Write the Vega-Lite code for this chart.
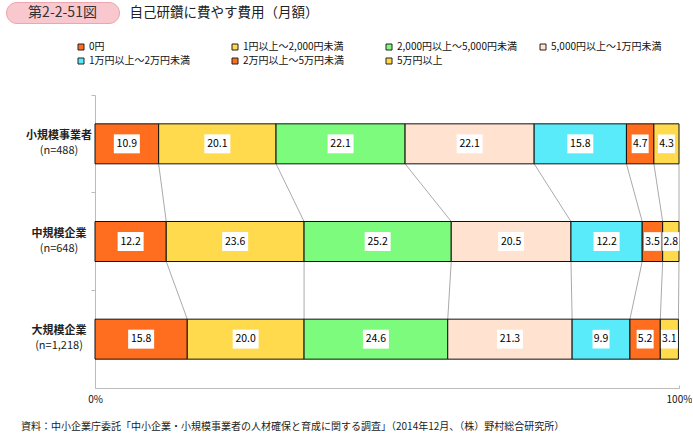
{
  "$schema": "https://vega.github.io/schema/vega-lite/v6.json",
  "background": "white",
  "padding": {"left": 5, "top": 1, "right": 0, "bottom": 0},
  "config": {
    "font": "Noto Sans CJK JP",
    "view": {"stroke": null}
  },
  "datasets": {
    "bars": [
      {"g": "小規模事業者", "gi": 0, "c": "0円", "ci": 0, "v": 10.9},
      {"g": "小規模事業者", "gi": 0, "c": "1円以上～2,000円未満", "ci": 1, "v": 20.1},
      {"g": "小規模事業者", "gi": 0, "c": "2,000円以上～5,000円未満", "ci": 2, "v": 22.1},
      {"g": "小規模事業者", "gi": 0, "c": "5,000円以上～1万円未満", "ci": 3, "v": 22.1},
      {"g": "小規模事業者", "gi": 0, "c": "1万円以上～2万円未満", "ci": 4, "v": 15.8},
      {"g": "小規模事業者", "gi": 0, "c": "2万円以上～5万円未満", "ci": 5, "v": 4.7},
      {"g": "小規模事業者", "gi": 0, "c": "5万円以上", "ci": 6, "v": 4.3},
      {"g": "中規模企業", "gi": 1, "c": "0円", "ci": 0, "v": 12.2},
      {"g": "中規模企業", "gi": 1, "c": "1円以上～2,000円未満", "ci": 1, "v": 23.6},
      {"g": "中規模企業", "gi": 1, "c": "2,000円以上～5,000円未満", "ci": 2, "v": 25.2},
      {"g": "中規模企業", "gi": 1, "c": "5,000円以上～1万円未満", "ci": 3, "v": 20.5},
      {"g": "中規模企業", "gi": 1, "c": "1万円以上～2万円未満", "ci": 4, "v": 12.2},
      {"g": "中規模企業", "gi": 1, "c": "2万円以上～5万円未満", "ci": 5, "v": 3.5},
      {"g": "中規模企業", "gi": 1, "c": "5万円以上", "ci": 6, "v": 2.8},
      {"g": "大規模企業", "gi": 2, "c": "0円", "ci": 0, "v": 15.8},
      {"g": "大規模企業", "gi": 2, "c": "1円以上～2,000円未満", "ci": 1, "v": 20.0},
      {"g": "大規模企業", "gi": 2, "c": "2,000円以上～5,000円未満", "ci": 2, "v": 24.6},
      {"g": "大規模企業", "gi": 2, "c": "5,000円以上～1万円未満", "ci": 3, "v": 21.3},
      {"g": "大規模企業", "gi": 2, "c": "1万円以上～2万円未満", "ci": 4, "v": 9.9},
      {"g": "大規模企業", "gi": 2, "c": "2万円以上～5万円未満", "ci": 5, "v": 5.2},
      {"g": "大規模企業", "gi": 2, "c": "5万円以上", "ci": 6, "v": 3.1}
    ],
    "groups": [
      {"g": "小規模事業者", "n": "(n=488)"},
      {"g": "中規模企業", "n": "(n=648)"},
      {"g": "大規模企業", "n": "(n=1,218)"}
    ]
  },
  "spacing": 70,
  "vconcat": [
    {
      "spacing": 4,
      "hconcat": [
        {
          "width": 113,
          "height": 21,
          "view": {"fill": "#F8C8CE", "stroke": "#EDA5AE", "cornerRadius": 10.5},
          "data": {"values": [{"t": "第2-2-51図"}]},
          "mark": {"type": "text", "fontSize": 14, "color": "#333333", "baseline": "middle", "align": "center"},
          "encoding": {"text": {"field": "t"}}
        },
        {
          "width": 200,
          "height": 21,
          "data": {"values": [{"t": "自己研鑽に費やす費用（月額）"}]},
          "mark": {"type": "text", "fontSize": 13.5, "color": "#222222", "baseline": "middle", "align": "center"},
          "encoding": {"text": {"field": "t"}}
        }
      ]
    },
    {
      "spacing": 0,
      "bounds": "flush",
      "hconcat": [
        {
          "width": 89,
          "height": 293,
          "data": {"name": "groups"},
          "encoding": {
            "y": {
              "field": "g",
              "type": "nominal",
              "sort": ["小規模事業者", "中規模企業", "大規模企業"],
              "scale": {"paddingInner": 0, "paddingOuter": 0},
              "axis": null
            }
          },
          "layer": [
            {
              "mark": {"type": "text", "fontSize": 11, "fontWeight": "bold", "color": "#222222", "align": "center", "baseline": "middle", "dx": 8.5, "dy": -8},
              "encoding": {"text": {"field": "g"}}
            },
            {
              "mark": {"type": "text", "fontSize": 11, "color": "#222222", "align": "center", "baseline": "middle", "dx": 8.5, "dy": 7},
              "encoding": {"text": {"field": "n"}}
            }
          ]
        },
        {
          "width": 584,
          "height": 293,
          "title": {
            "text": "資料：中小企業庁委託「中小企業・小規模事業者の人材確保と育成に関する調査」（2014年12月、（株）野村総合研究所）",
            "orient": "bottom",
            "anchor": "start",
            "frame": "group",
            "dx": -74,
            "offset": 18,
            "fontSize": 10,
            "fontWeight": "normal",
            "color": "#222222"
          },
          "data": {"name": "bars"},
          "encoding": {
            "y": {
              "field": "g",
              "type": "nominal",
              "sort": ["小規模事業者", "中規模企業", "大規模企業"],
              "scale": {"paddingInner": 0, "paddingOuter": 0},
              "axis": {
                "title": null,
                "bandPosition": 0,
                "labels": false,
                "domainColor": "#BBBBBB",
                "tickColor": "#BBBBBB",
                "tickSize": 4
              }
            }
          },
          "layer": [
            {
              "transform": [
                {"window": [{"op": "sum", "field": "v", "as": "cum"}], "groupby": ["g"], "sort": [{"field": "ci"}]},
                {"window": [{"op": "lead", "field": "cum", "as": "nc"}, {"op": "lead", "field": "g", "as": "ng"}], "groupby": ["ci"], "sort": [{"field": "gi"}]},
                {"filter": "datum.ng != null"}
              ],
              "mark": {"type": "rule", "color": "#AAAAAA", "strokeWidth": 1, "yOffset": 20, "y2Offset": -20},
              "encoding": {
                "x": {"field": "cum", "type": "quantitative"},
                "x2": {"field": "nc"},
                "y2": {"field": "ng"}
              }
            },
            {
              "mark": {"type": "bar", "size": 40, "stroke": "#111111", "strokeWidth": 1},
              "encoding": {
                "x": {
                  "field": "v",
                  "type": "quantitative",
                  "stack": "zero",
                  "scale": {"domain": [0, 100], "nice": false},
                  "axis": {
                    "title": null,
                    "values": [0, 100],
                    "labelExpr": "datum.value + '%'",
                    "grid": false,
                    "domainColor": "#BBBBBB",
                    "tickColor": "#BBBBBB",
                    "tickSize": -3,
                    "labelPadding": 9,
                    "labelFontSize": 10,
                    "labelColor": "#111111",
                    "labelFlush": false
                  }
                },
                "color": {
                  "field": "c",
                  "type": "nominal",
                  "scale": {
                    "domain": ["0円", "1円以上～2,000円未満", "2,000円以上～5,000円未満", "5,000円以上～1万円未満", "1万円以上～2万円未満", "2万円以上～5万円未満", "5万円以上"],
                    "range": ["#FF6D1F", "#FFDA4D", "#7CFB7C", "#FFE2CF", "#5AEBFA", "#FF6D1F", "#FFDA4D"]
                  },
                  "legend": {
                    "title": null,
                    "orient": "none",
                    "legendX": 70,
                    "legendY": 40,
                    "direction": "horizontal",
                    "columns": 4,
                    "gridAlign": "all",
                    "columnPadding": 21,
                    "rowPadding": 4,
                    "padding": 0,
                    "symbolType": "square",
                    "symbolSize": 36,
                    "symbolStrokeColor": "#222222",
                    "symbolStrokeWidth": 1,
                    "labelFontSize": 10,
                    "labelColor": "#111111",
                    "labelOffset": 3,
                    "labelLimit": 200
                  }
                },
                "order": {"field": "ci", "type": "quantitative"}
              }
            },
            {
              "mark": {"type": "point", "filled": true, "fill": "white", "opacity": 1, "strokeWidth": 0},
              "encoding": {
                "x": {"field": "v", "type": "quantitative", "stack": "zero", "bandPosition": 0.5},
                "order": {"field": "ci", "type": "quantitative"},
                "shape": {"condition": {"test": "datum.v >= 10", "value": "M-1,-0.73H1V0.73H-1Z"}, "value": "M-1,-1.1H1V1.1H-1Z"},
                "size": {"condition": {"test": "datum.v >= 10", "value": 676}, "value": 289}
              }
            },
            {
              "mark": {"type": "text", "fontSize": 10.5, "color": "#000000", "baseline": "middle", "align": "center"},
              "encoding": {
                "x": {"field": "v", "type": "quantitative", "stack": "zero", "bandPosition": 0.5},
                "order": {"field": "ci", "type": "quantitative"},
                "text": {"field": "v", "type": "quantitative", "format": ".1f"}
              }
            }
          ]
        }
      ]
    }
  ]
}
